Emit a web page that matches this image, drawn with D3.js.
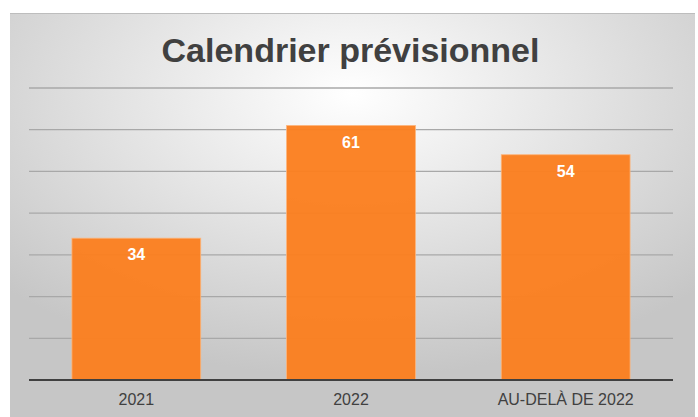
<!DOCTYPE html>
<html lang="fr">
<head>
<meta charset="UTF-8"/>
<title>Calendrier prévisionnel</title>
<script src="https://d3js.org/d3.v7.min.js"></script>
<style>
	body { margin: 0; background: #fff; }
	svg text { font-family: "Liberation Sans", Arial, sans-serif; }
</style>
</head>
<body>
<script>
	var categories = ["2021", "2022", "AU-DELÀ DE 2022"];
	var values = [34, 61, 54];
	var gridTicks = [0, 10, 20, 30, 40, 50, 60, 70];
	var title = "Calendrier prévisionnel";

	var w = 698;
	var h = 417;

	var svg = d3.select("body")
				.append("svg")
				.attr("width", w)
				.attr("height", h);

	// background gradient
	var defs = svg.append("defs");
	var grad = defs.append("radialGradient")
				.attr("id", "bg")
				.attr("cx", "50%")
				.attr("cy", "20%")
				.attr("r", "70%");
	grad.append("stop").attr("offset", "0%").attr("stop-color", "#ffffff");
	grad.append("stop").attr("offset", "100%").attr("stop-color", "#c6c6c6");

	svg.append("rect")
		.attr("x", 10)
		.attr("y", 13)
		.attr("width", 685)
		.attr("height", h - 13)
		.attr("fill", "url(#bg)");

	svg.append("line")
		.attr("x1", 10).attr("x2", 695)
		.attr("y1", 13.5).attr("y2", 13.5)
		.attr("stroke", "#bdbdbd");

	var xScale = d3.scaleBand()
				.domain(categories)
				.range([29, 673])
				.paddingInner(0.4)
				.paddingOuter(0.2);

	var yScale = d3.scaleLinear()
				.domain([0, 70])
				.range([380, 88]);

	// gridlines
	svg.append("g")
		.selectAll("line")
		.data(gridTicks.slice(1))
		.enter()
		.append("line")
		.attr("x1", 29)
		.attr("x2", 673)
		.attr("y1", function(d){ return yScale(d); })
		.attr("y2", function(d){ return yScale(d); })
		.attr("stroke", "#a8a8a8")
		.attr("stroke-width", 1.3);

	// bars
	svg.selectAll("rect.bar")
		.data(values)
		.enter()
		.append("rect")
		.attr("class", "bar")
		.attr("x", function(d, i){ return xScale(categories[i]); })
		.attr("y", function(d){ return yScale(d); })
		.attr("width", xScale.bandwidth())
		.attr("height", function(d){ return yScale(0) - yScale(d); })
		.attr("fill", "#fb7f1f")
		.attr("fill-opacity", 0.96)
		.attr("stroke", "#fdb47a")
		.attr("stroke-width", 0.8);

	// value labels
	svg.selectAll("text.val")
		.data(values)
		.enter()
		.append("text")
		.attr("class", "val")
		.attr("x", function(d, i){ return xScale(categories[i]) + xScale.bandwidth() / 2; })
		.attr("y", function(d){ return yScale(d) + 22; })
		.attr("text-anchor", "middle")
		.attr("fill", "#ffffff")
		.attr("font-size", "16px")
		.attr("font-weight", "bold")
		.text(function(d){ return d; });

	// x axis
	var xAxis = d3.axisBottom()
				.scale(xScale)
				.tickSize(0)
				.tickPadding(14);

	var gx = svg.append("g")
		.attr("transform", "translate(0," + yScale(0) + ")")
		.call(xAxis);
	gx.select(".domain")
		.attr("d", "M29,0H673")
		.attr("stroke", "#404040")
		.attr("stroke-width", 2.2);
	gx.selectAll("text")
		.attr("font-size", "16px")
		.attr("font-family", "Liberation Sans, Arial, sans-serif")
		.attr("fill", "#404040");

	// title
	svg.append("text")
		.attr("x", 350.5)
		.attr("y", 62)
		.attr("text-anchor", "middle")
		.attr("font-size", "34px")
		.attr("font-weight", "bold")
		.attr("fill", "#404040")
		.text(title);
</script>
</body>
</html>
